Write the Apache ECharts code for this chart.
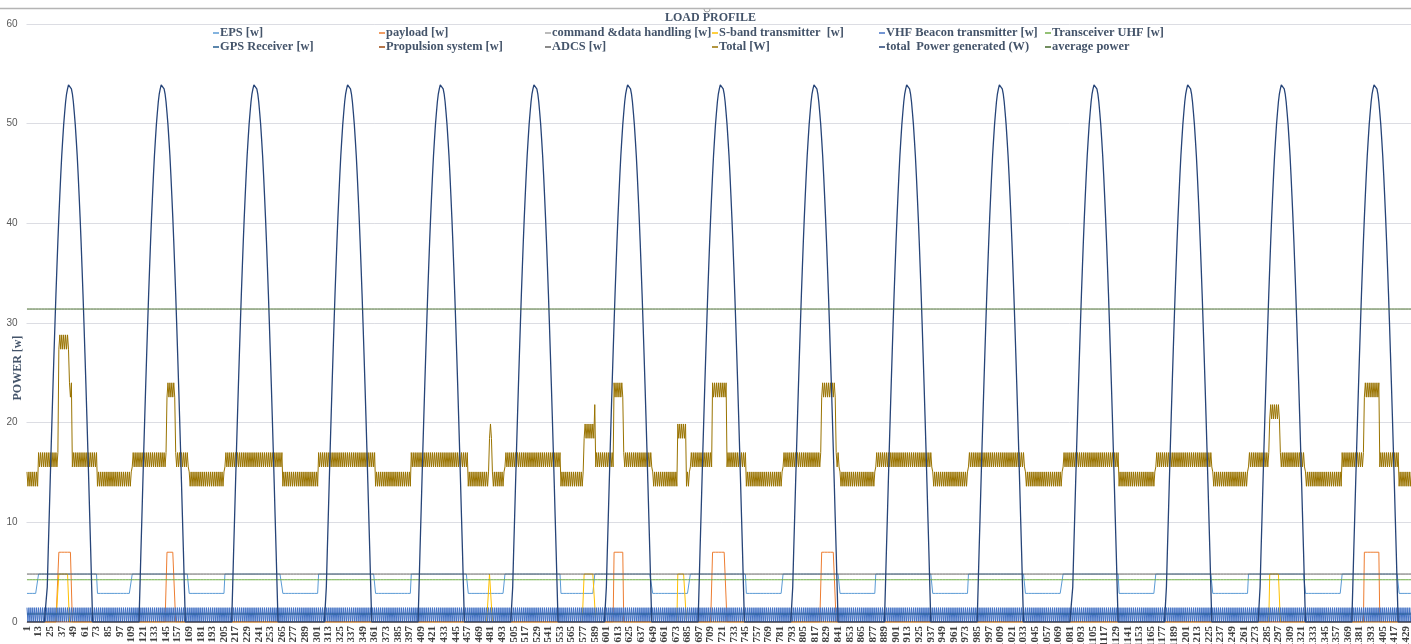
<!DOCTYPE html>
<html>
<head>
<meta charset="utf-8">
<title>Load profile</title>
<script src="https://cdn.jsdelivr.net/npm/echarts@6/dist/echarts.min.js"></script>
<style>
  html, body { margin: 0; padding: 0; background: #ffffff; overflow: hidden; }
  #chart { width: 1417px; height: 644px; }
</style>
</head>
<body>
<div id="chart"></div>
<script>
// ---- one day of subsystem power, one sample per minute ----
const MINUTES = 1440;

const SERIES_NAMES = [
  'EPS [w]', 'payload [w]', 'command &data handling [w]', 'S-band transmitter  [w]',
  'VHF Beacon transmitter [w]', 'Transceiver UHF [w]',
  'GPS Receiver [w]', 'Propulsion system [w]', 'ADCS [w]', 'Total [W]',
  'total  Power generated (W)', 'average power'
];
const COLORS = [
  '#5B9BD5', '#ED7D31', '#A5A5A5', '#FFC000', '#4472C4', '#70AD47',
  '#255E91', '#9E480E', '#636363', '#997300', '#264478', '#43682B'
];

// solar array output over one sunlit pass (minute by minute, W)
const SUN_ARC = [
  0, 3.5, 7.1, 10.5, 14.0, 17.4, 20.7, 23.9, 27.0, 30.0, 32.9, 35.6,
  38.2, 40.6, 42.8, 44.9, 46.8, 48.4, 49.9, 51.1, 52.2, 53.0, 53.5, 53.9,
  54.0,
  53.9, 53.5, 53.0, 52.2, 51.1, 49.9, 48.4, 46.8, 44.9, 42.8, 40.6, 38.2,
  35.6, 32.9, 30.0, 27.0, 23.9, 20.7, 17.4, 14.0, 10.5, 7.1, 3.5, 0
];
// minute of peak generation for each orbit
const ARC_PEAKS = [44, 140, 236, 333, 429, 526, 623, 719, 816, 912, 1008, 1106, 1203, 1300, 1396];

// EPS: normal draw, reduced draw during the eclipse windows
const EPS_ACTIVE = 4.81;
const EPS_IDLE = 2.87;
const EPS_IDLE_WINDOWS = [
  [0, 12], [73, 109], [168, 205], [265, 302], [361, 398], [457, 495], [553, 588],
  [648, 687], [745, 783], [842, 879], [938, 975], [1034, 1073], [1131, 1169],
  [1228, 1265], [1324, 1362], [1421, 1440]
];

// payload imaging passes
const PAYLOAD_POWER = 7;
const PAYLOAD_WINDOWS = [[33, 47], [145, 154], [608, 618], [710, 725], [823, 838], [1385, 1401]];

// S-band downlink passes
const SBAND_POWER = 4.81;
const SBAND_WINDOWS = [[33, 44], [479, 482], [577, 589], [674, 683], [1287, 1298]];

// beacon keyed on / off every minute
const BEACON_CYCLE = [1.44, 0];

const CDH_POWER = 0.9;
const UHF_POWER = 4.24;
const GPS_POWER = 0.8;
const PROPULSION_POWER = 0;
const ADCS_POWER = 4.81;
const AVERAGE_POWER = 31.4;

// legend layout: marker x of each column, row tops
const LEGEND_COLUMNS = [213, 379, 545, 712, 879, 1045];
const LEGEND_ROWS = [27, 41];

// ---- build the per-minute series ----
const minutes = [];
for (let i = 1; i <= MINUTES; i++) minutes.push(String(i));

function levels(windows, inside, outside) {
  const out = new Array(MINUTES).fill(outside);
  windows.forEach(([s, e]) => { for (let i = s; i < e && i < MINUTES; i++) out[i] = inside; });
  return out;
}
function constant(v) { return new Array(MINUTES).fill(v); }

const eps = levels(EPS_IDLE_WINDOWS, EPS_IDLE, EPS_ACTIVE);
const payload = levels(PAYLOAD_WINDOWS, PAYLOAD_POWER, 0);
const cdh = constant(CDH_POWER);
const sband = levels(SBAND_WINDOWS, SBAND_POWER, 0);
const beacon = minutes.map((_, i) => BEACON_CYCLE[i % BEACON_CYCLE.length]);
const uhf = constant(UHF_POWER);
const gps = constant(GPS_POWER);
const propulsion = constant(PROPULSION_POWER);
const adcs = constant(ADCS_POWER);
const consumers = [eps, payload, cdh, sband, beacon, uhf, gps, propulsion, adcs];
const total = minutes.map((_, i) => +consumers.reduce((s, a) => s + a[i], 0).toFixed(2));

const generated = constant(0);
const half = (SUN_ARC.length - 1) / 2;
ARC_PEAKS.forEach(p => {
  SUN_ARC.forEach((v, k) => {
    const i = p - half + k;
    if (i >= 0 && i < MINUTES) generated[i] = v;
  });
});
const average = constant(AVERAGE_POWER);

const seriesData = [eps, payload, cdh, sband, beacon, uhf, gps, propulsion, adcs, total, generated, average];

const chart = echarts.init(document.getElementById('chart'), null, { renderer: 'canvas' });

// one legend entry per slot so the columns line up
const legends = SERIES_NAMES.map((name, k) => ({
  data: [name],
  left: LEGEND_COLUMNS[k % 6],
  top: LEGEND_ROWS[Math.floor(k / 6)],
  icon: 'rect', itemWidth: 6, itemHeight: 1.5, itemGap: 0, padding: 0,
  selectedMode: false,
  textStyle: {
    fontFamily: 'Liberation Serif', fontWeight: 'bold', fontSize: 12.4,
    color: '#44546A', padding: [0, 0, 0, -4]
  }
}));

chart.setOption({
  animation: false,
  backgroundColor: '#ffffff',
  color: COLORS,
  title: {
    text: 'LOAD PROFILE', left: 665, top: 12, padding: 0,
    textStyle: { fontFamily: 'Liberation Serif', fontWeight: 'bold', fontSize: 12, color: '#44546A' }
  },
  legend: legends,
  grid: { left: 26.5, right: 0, top: 24, bottom: 22, containLabel: false, outerBoundsMode: 'none' },
  xAxis: {
    type: 'category', data: minutes, boundaryGap: true,
    axisLine: { show: false }, axisTick: { show: false },
    axisLabel: {
      interval: 11, rotate: 90, margin: 4, fontSize: 11,
      fontFamily: 'Liberation Serif', fontWeight: 'bold', color: '#404040'
    },
    splitLine: { show: false }
  },
  yAxis: {
    type: 'value', min: 0, max: 60, interval: 10,
    axisLine: { show: false }, axisTick: { show: false },
    axisLabel: { fontSize: 10, color: '#595959', margin: 9, fontFamily: 'Liberation Sans' },
    splitLine: { lineStyle: { color: '#dcdde3', width: 1 } }
  },
  graphic: [
    // chart frame edge with its sizing handle
    { type: 'line', shape: { x1: 0, y1: 8.5, x2: 1417, y2: 8.5 }, style: { stroke: '#b4b4b4', lineWidth: 1.5 }, silent: true },
    { type: 'arc', shape: { cx: 707, cy: 9, r: 3, startAngle: 0, endAngle: Math.PI }, style: { stroke: '#a0a0a0', fill: 'none', lineWidth: 1 }, silent: true },
    {
      type: 'text', x: 18, y: 368, rotation: Math.PI / 2, silent: true,
      style: {
        text: 'POWER [w]', fontFamily: 'Liberation Serif', fontWeight: 'bold', fontSize: 12,
        fill: '#44546A', align: 'center', verticalAlign: 'middle'
      }
    }
  ],
  series: seriesData.map((d, idx) => ({
    name: SERIES_NAMES[idx], type: 'line', data: d,
    showSymbol: false, symbol: 'none', sampling: false, silent: true,
    lineStyle: { width: idx === 10 ? 1.3 : 1, color: COLORS[idx] },
    itemStyle: { color: COLORS[idx] }
  }))
});
</script>
</body>
</html>
